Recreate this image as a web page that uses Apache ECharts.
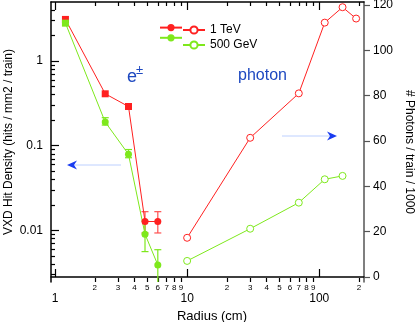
<!DOCTYPE html>
<html>
<head>
<meta charset="utf-8">
<script src="https://cdn.jsdelivr.net/npm/echarts@6/dist/echarts.min.js"></script>
<style>
  html, body { margin: 0; padding: 0; background: #fff; }
  #chart { width: 415px; height: 322px; }
</style>
</head>
<body>
<div id="chart"></div>
<script>
// e+- hit density (left log axis)
var radiusE = [1.2, 2.4, 3.6, 4.8, 6.0];
var tev1E = [3.1, 0.41, 0.29, 0.0127, 0.0127];
var gev500E = [2.8, 0.19, 0.079, 0.009, 0.0039];
// error bars [radius, low, high]
var errTev1E = [[4.8, 0.0093, 0.0166], [6.0, 0.0093, 0.0166]];
var errGev500E = [[2.4, 0.175, 0.214], [3.6, 0.072, 0.090], [4.8, 0.0056, 0.0128], [6.0, 0.0024, 0.0059]];

// photons / train / 1000 (right axis)
var radiusPh1 = [10, 30, 70, 110, 150, 190];
var tev1Ph = [17.3, 61.4, 81, 112.2, 119, 114];
var radiusPh2 = [10, 30, 70, 110, 150];
var gev500Ph = [7.1, 21.3, 32.8, 43.1, 44.6];

// tick values
var xMajor = [1, 10, 100];
var xMinor = [2, 3, 4, 5, 6, 7, 8, 9, 20, 30, 40, 50, 60, 70, 80, 90, 200];
var yMajor = [0.01, 0.1, 1];
var yMinor = [0.003, 0.004, 0.005, 0.006, 0.007, 0.008, 0.009,
              0.02, 0.03, 0.04, 0.05, 0.06, 0.07, 0.08, 0.09,
              0.2, 0.3, 0.4, 0.5, 0.6, 0.7, 0.8, 0.9, 2, 3, 4];
var rightTicks = [0, 20, 40, 60, 80, 100, 120];

var FONT = '"Liberation Sans", Arial, sans-serif';
var RED = '#ff2020';
var GREEN = '#7ee81c';
var BLUE = '#1d48c0';

var chart = echarts.init(document.getElementById('chart'));

function pairs(xs, ys, firstRects) {
    return xs.map(function (x, i) {
        var item = { value: [x, ys[i]] };
        if (i < firstRects) item.symbol = 'rect';
        return item;
    });
}

function leadDigit(v) {
    var p = Math.pow(10, Math.floor(Math.log10(v) + 1e-9));
    return String(Math.round(v / p));
}

function xAxisDef(pos, ticks, len, labelOpt, lineShow) {
    return {
        type: 'log',
        position: pos,
        min: 0.933,
        max: 218,
        axisLine: { show: lineShow, lineStyle: { color: '#000', width: 1.5 } },
        axisTick: { inside: true, length: len, customValues: ticks, lineStyle: { color: '#000', width: 1.2 } },
        axisLabel: labelOpt,
        splitLine: { show: false }
    };
}

function errorBars(api) {
    var x = api.value(0);
    var lo = api.coord([x, api.value(1)]);
    var hi = api.coord([x, api.value(2)]);
    var color = api.visual('color');
    var w = 3.5;
    var style = { stroke: color, lineWidth: 1.2 };
    return {
        type: 'group',
        children: [
            { type: 'line', shape: { x1: lo[0], y1: lo[1], x2: hi[0], y2: hi[1] }, style: style },
            { type: 'line', shape: { x1: lo[0] - w, y1: lo[1], x2: lo[0] + w, y2: lo[1] }, style: style },
            { type: 'line', shape: { x1: hi[0] - w, y1: hi[1], x2: hi[0] + w, y2: hi[1] }, style: style }
        ]
    };
}

var legendText = { fontSize: 12, lineHeight: 12, color: '#000', fontFamily: FONT };

var option = {
    animation: false,
    textStyle: { fontFamily: FONT },
    grid: { left: 51, right: 51, top: 2, bottom: 40, outerBoundsMode: 'none', containLabel: false },
    legend: [{
        orient: 'vertical',
        left: 159,
        top: 24,
        padding: 0,
        itemWidth: 22,
        itemHeight: 9,
        itemGap: 3,
        selectedMode: false,
        data: ['1 TeV e±', '500 GeV e±'],
        textStyle: legendText,
        formatter: function () { return ''; }
    }, {
        orient: 'vertical',
        left: 182,
        top: 24,
        padding: 0,
        itemWidth: 22,
        itemHeight: 9,
        itemGap: 3,
        selectedMode: false,
        data: ['1 TeV', '500 GeV'],
        textStyle: legendText
    }],
    xAxis: [
        (function () {
            var a = xAxisDef('bottom', xMajor, 8, {
                customValues: xMajor, fontSize: 12, margin: 11, color: '#000', fontFamily: FONT
            }, true);
            a.name = 'Radius (cm)';
            a.nameLocation = 'middle';
            a.nameGap = 24;
            a.nameTextStyle = { fontSize: 13, color: '#000', fontFamily: FONT, padding: [0, 0, 0, 9] };
            return a;
        })(),
        xAxisDef('bottom', xMinor, 4, {
            customValues: xMinor, fontSize: 8, margin: 2, color: '#000', fontFamily: FONT, formatter: leadDigit
        }, false),
        xAxisDef('top', xMajor, 8, { show: false }, true),
        xAxisDef('top', xMinor, 4, { show: false }, false)
    ],
    yAxis: [{
        type: 'log',
        position: 'left',
        min: 0.00245,
        max: 4.98,
        name: 'VXD Hit Density (hits / mm2 / train)',
        nameLocation: 'middle',
        nameRotate: 90,
        nameGap: 36,
        nameMoveOverlap: false,
        nameTextStyle: { fontSize: 12, color: '#000', fontFamily: FONT },
        axisLine: { lineStyle: { color: '#000', width: 1.5 } },
        axisTick: { inside: true, length: 8, customValues: yMajor, lineStyle: { color: '#000', width: 1.2 } },
        axisLabel: { customValues: yMajor, fontSize: 12, margin: 8, color: '#000', fontFamily: FONT },
        splitLine: { show: false }
    }, {
        type: 'log',
        position: 'left',
        min: 0.00245,
        max: 4.98,
        axisLine: { show: false },
        axisTick: { inside: true, length: 4, customValues: yMinor, lineStyle: { color: '#000', width: 1.2 } },
        axisLabel: { show: false },
        splitLine: { show: false }
    }, {
        type: 'value',
        position: 'right',
        min: -2.2,
        max: 121.3,
        name: '# Photons / train / 1000',
        nameLocation: 'middle',
        nameRotate: -90,
        nameGap: 39,
        nameMoveOverlap: false,
        nameTextStyle: { fontSize: 12, color: '#000', fontFamily: FONT, padding: [0, 0, 0, 20] },
        axisLine: { lineStyle: { color: '#555', width: 1.5 } },
        axisTick: { length: 6, customValues: rightTicks, lineStyle: { color: '#555', width: 1.2 } },
        axisLabel: { customValues: rightTicks, fontSize: 12, margin: 9, color: '#000', fontFamily: FONT },
        splitLine: { show: false }
    }],
    graphic: [
        { type: 'text', left: 127, top: 68, style: { text: 'e', fontSize: 18, fill: BLUE, fontFamily: FONT } },
        { type: 'text', left: 136, top: 64, style: { text: '±', fontSize: 13, fill: BLUE, fontFamily: FONT } },
        { type: 'text', left: 238, top: 68, style: { text: 'photon', fontSize: 16, fill: BLUE, fontFamily: FONT } },
        // left arrow (e+- -> left axis)
        { type: 'line', shape: { x1: 121, y1: 165, x2: 72, y2: 165 }, style: { stroke: '#bdd0ff', lineWidth: 1 } },
        { type: 'polygon', shape: { points: [[67, 165], [77, 160.5], [74, 165], [77, 169.5]] }, style: { fill: '#1a3cf0' } },
        // right arrow (photon -> right axis)
        { type: 'line', shape: { x1: 282, y1: 136, x2: 332, y2: 136 }, style: { stroke: '#bdd0ff', lineWidth: 1 } },
        { type: 'polygon', shape: { points: [[337, 136], [327, 131.5], [330, 136], [327, 140.5]] }, style: { fill: '#1a3cf0' } }
    ],
    series: [{
        name: '1 TeV e±',
        type: 'line',
        xAxisIndex: 0,
        yAxisIndex: 0,
        data: pairs(radiusE, tev1E, 3),
        symbol: 'circle',
        symbolSize: 7,
        color: RED,
        lineStyle: { width: 1 },
        z: 3
    }, {
        name: '500 GeV e±',
        type: 'line',
        xAxisIndex: 0,
        yAxisIndex: 0,
        data: pairs(radiusE, gev500E, 1),
        symbol: 'circle',
        symbolSize: 7,
        color: GREEN,
        lineStyle: { width: 1 },
        z: 3
    }, {
        name: '1 TeV',
        type: 'line',
        xAxisIndex: 0,
        yAxisIndex: 2,
        data: pairs(radiusPh1, tev1Ph, 0),
        symbol: 'circle',
        symbolSize: 7,
        itemStyle: { color: '#fff', borderColor: RED, borderWidth: 1 },
        lineStyle: { width: 1, color: RED }
    }, {
        name: '500 GeV',
        type: 'line',
        xAxisIndex: 0,
        yAxisIndex: 2,
        data: pairs(radiusPh2, gev500Ph, 0),
        symbol: 'circle',
        symbolSize: 7,
        itemStyle: { color: '#fff', borderColor: GREEN, borderWidth: 1 },
        lineStyle: { width: 1, color: GREEN }
    }, {
        type: 'custom',
        xAxisIndex: 0,
        yAxisIndex: 0,
        color: '#ff5050',
        clip: true,
        renderItem: function (params, api) { return errorBars(api); },
        encode: { x: 0, y: [1, 2] },
        data: errTev1E,
        z: 2
    }, {
        type: 'custom',
        xAxisIndex: 0,
        yAxisIndex: 0,
        color: GREEN,
        clip: true,
        renderItem: function (params, api) { return errorBars(api); },
        encode: { x: 0, y: [1, 2] },
        data: errGev500E,
        z: 2
    }]
};

chart.setOption(option);
</script>
</body>
</html>
